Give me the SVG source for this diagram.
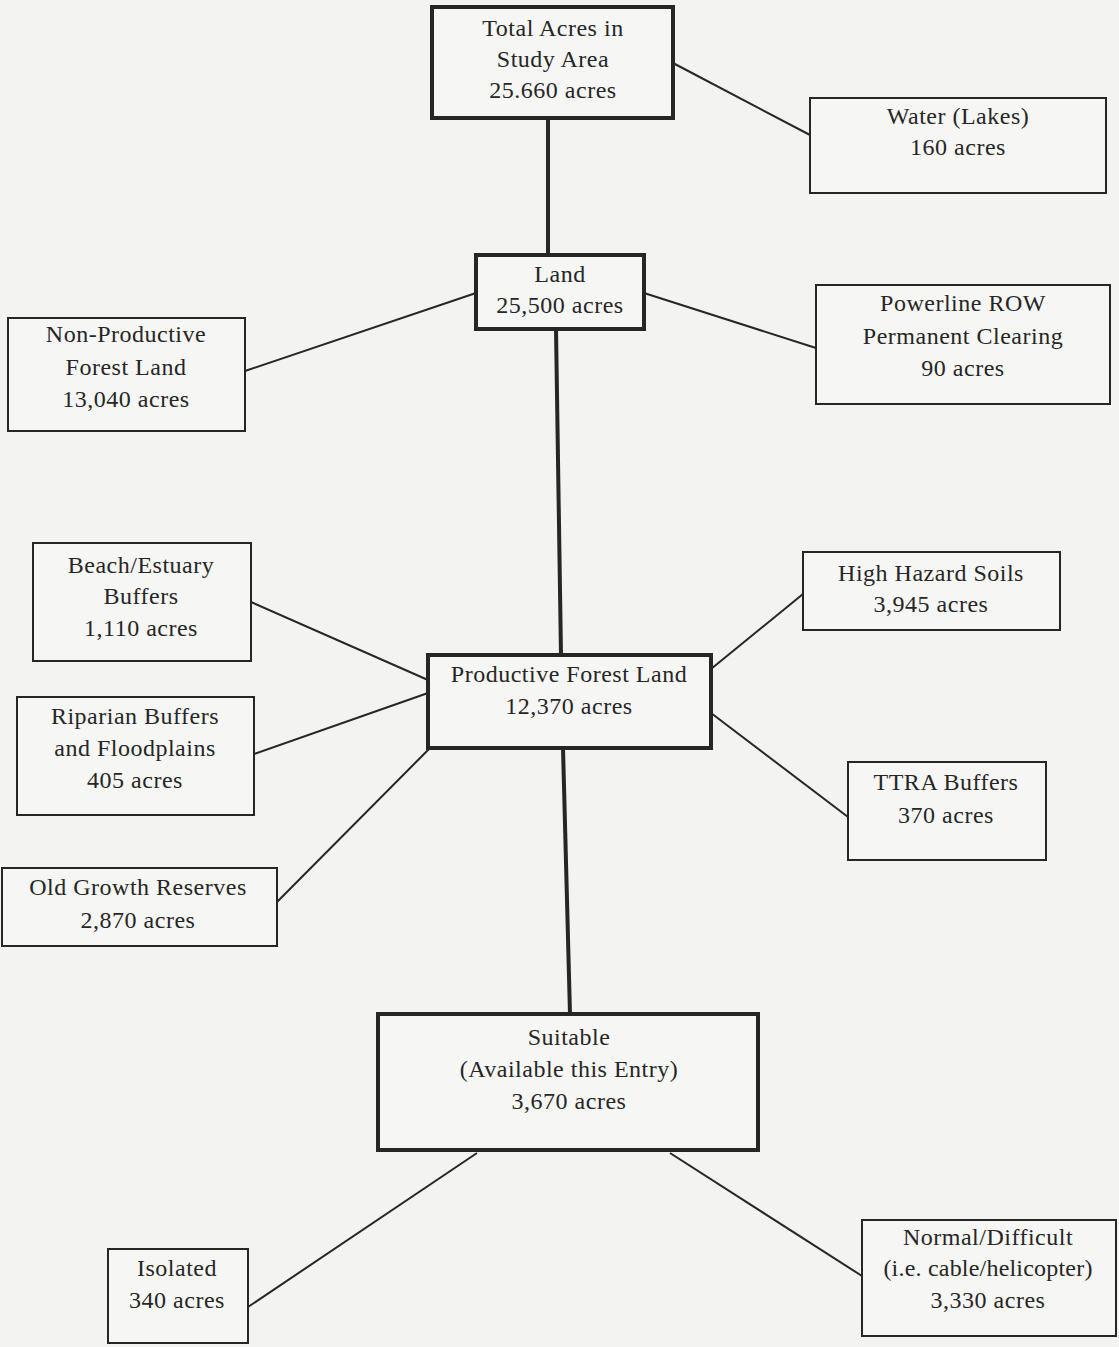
<svg xmlns="http://www.w3.org/2000/svg" width="1119" height="1347" viewBox="0 0 1119 1347">
<style>
.bg{fill:#f3f3f2}
.box{fill:#f6f6f5;stroke:#262626;stroke-width:2}
.main{stroke-width:4}
text{font-family:"Liberation Serif","Times New Roman",serif;font-size:24px;fill:#262626;text-anchor:middle;letter-spacing:0.5px}
.c{stroke:#262626;stroke-width:2;fill:none}
.v{stroke-width:4}
</style>
<rect class="bg" x="0" y="0" width="1119" height="1347"/>
<g id="connectors">
<line class="c" x1="673" y1="63" x2="810" y2="135"/>
<line class="c v" x1="548" y1="118" x2="548" y2="255"/>
<line class="c" x1="476" y1="293" x2="245" y2="371"/>
<line class="c" x1="644" y1="293" x2="816" y2="348"/>
<line class="c v" x1="556" y1="329" x2="561" y2="655"/>
<line class="c" x1="251" y1="602" x2="428" y2="680"/>
<line class="c" x1="254" y1="754" x2="428" y2="693"/>
<line class="c" x1="277" y1="902" x2="430" y2="748"/>
<line class="c" x1="711" y1="669" x2="803" y2="594"/>
<line class="c" x1="711" y1="713" x2="848" y2="817"/>
<line class="c v" x1="563" y1="748" x2="570" y2="1014"/>
<line class="c" x1="477" y1="1153" x2="248" y2="1307"/>
<line class="c" x1="670" y1="1153" x2="862" y2="1276"/>
</g>
<g id="total">
<rect class="box main" x="432" y="7" width="241" height="111"/>
<text x="553" y="36">Total Acres in</text>
<text x="553" y="67">Study Area</text>
<text x="553" y="98">25.660 acres</text>
</g>
<g id="water">
<rect class="box" x="810" y="98" width="296" height="95"/>
<text x="958" y="124">Water (Lakes)</text>
<text x="958" y="155">160 acres</text>
</g>
<g id="land">
<rect class="box main" x="476" y="255" width="168" height="74"/>
<text x="560" y="282">Land</text>
<text x="560" y="313">25,500 acres</text>
</g>
<g id="nonproductive">
<rect class="box" x="8" y="318" width="237" height="113"/>
<text x="126" y="342">Non-Productive</text>
<text x="126" y="375">Forest Land</text>
<text x="126" y="407">13,040 acres</text>
</g>
<g id="powerline">
<rect class="box" x="816" y="285" width="294" height="119"/>
<text x="963" y="311">Powerline ROW</text>
<text x="963" y="344">Permanent Clearing</text>
<text x="963" y="376">90 acres</text>
</g>
<g id="beach">
<rect class="box" x="33" y="543" width="218" height="118"/>
<text x="141" y="573">Beach/Estuary</text>
<text x="141" y="604">Buffers</text>
<text x="141" y="636">1,110 acres</text>
</g>
<g id="productive">
<rect class="box main" x="428" y="655" width="283" height="93"/>
<text x="569" y="682">Productive Forest Land</text>
<text x="569" y="714">12,370 acres</text>
</g>
<g id="highhazard">
<rect class="box" x="803" y="552" width="257" height="78"/>
<text x="931" y="581">High Hazard Soils</text>
<text x="931" y="612">3,945 acres</text>
</g>
<g id="riparian">
<rect class="box" x="17" y="697" width="237" height="118"/>
<text x="135" y="724">Riparian Buffers</text>
<text x="135" y="756">and Floodplains</text>
<text x="135" y="788">405 acres</text>
</g>
<g id="ttra">
<rect class="box" x="848" y="762" width="198" height="98"/>
<text x="946" y="790">TTRA Buffers</text>
<text x="946" y="823">370 acres</text>
</g>
<g id="oldgrowth">
<rect class="box" x="2" y="868" width="275" height="78"/>
<text x="138" y="895">Old Growth Reserves</text>
<text x="138" y="928">2,870 acres</text>
</g>
<g id="suitable">
<rect class="box main" x="378" y="1014" width="380" height="136"/>
<text x="569" y="1045">Suitable</text>
<text x="569" y="1077">(Available this Entry)</text>
<text x="569" y="1109">3,670 acres</text>
</g>
<g id="isolated">
<rect class="box" x="108" y="1249" width="140" height="94"/>
<text x="177" y="1276">Isolated</text>
<text x="177" y="1308">340 acres</text>
</g>
<g id="normal">
<rect class="box" x="862" y="1220" width="254" height="116"/>
<text x="988" y="1245">Normal/Difficult</text>
<text x="988" y="1276" style="letter-spacing:0.2px">(i.e. cable/helicopter)</text>
<text x="988" y="1308">3,330 acres</text>
</g>
</svg>
